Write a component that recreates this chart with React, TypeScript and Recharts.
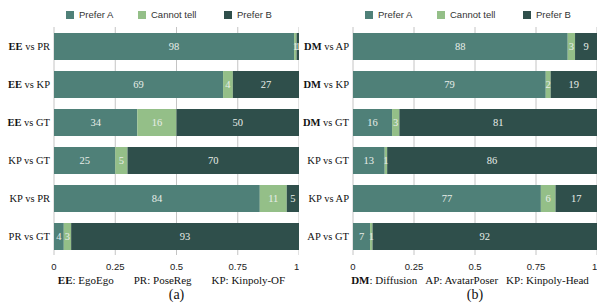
import { Bar, BarChart, CartesianGrid, LabelList, XAxis, YAxis } from "recharts"

// percentages
const seriesNames = ["Prefer A", "Cannot tell", "Prefer B"]
const seriesColors = ["#4f8078", "#94bf88", "#2f4f4b"]

const leftPairs = ["EE vs PR", "EE vs KP", "EE vs GT", "KP vs GT", "KP vs PR", "PR vs GT"]
const leftPreferA = [98, 69, 34, 25, 84, 4]
const leftCannotTell = [1, 4, 16, 5, 11, 3]
const leftPreferB = [1, 27, 50, 70, 5, 93]

const rightPairs = ["DM vs AP", "DM vs KP", "DM vs GT", "KP vs GT", "KP vs AP", "AP vs GT"]
const rightPreferA = [88, 79, 16, 13, 77, 7]
const rightCannotTell = [3, 2, 3, 1, 6, 1]
const rightPreferB = [9, 19, 81, 86, 17, 92]

const xTicks = [0, 0.25, 0.5, 0.75, 1]
const boldNames = ["EE", "DM"]

const leftCaption = [["EE", ": EgoEgo"], ["PR", ": PoseReg"], ["KP", ": Kinpoly-OF"]]
const rightCaption = [["DM", ": Diffusion"], ["AP", ": AvatarPoser"], ["KP", ": Kinpoly-Head"]]

const serif = "'Liberation Serif', 'Times New Roman', serif"
const sans = "'Liberation Sans', Arial, sans-serif"

const buildRows = (names: string[], a: number[], c: number[], b: number[]) =>
    names.map((name, i) => ({ name, a: a[i] / 100, c: c[i] / 100, b: b[i] / 100 }))

const YTick = (props: any) => {
    const { x, y, payload } = props
    const [first, ...rest] = String(payload.value).split(" ")
    return (
        <text x={x} y={y} dy="0.35em" textAnchor="end" fontFamily={serif} fontSize={10.5} fill="#111">
            <tspan fontWeight={boldNames.includes(first) ? "bold" : "normal"}>{first}</tspan>
            <tspan>{" " + rest.join(" ")}</tspan>
        </text>
    )
}

const barLabel = (props: any) => {
    const { x, y, width, height, value } = props
    return (
        <text
            x={x + width / 2}
            y={y + height / 2}
            dy="0.35em"
            textAnchor="middle"
            fontFamily={serif}
            fontSize={10.5}
            fill="#e8eee9"
        >
            {Math.round(value * 100)}
        </text>
    )
}

const legendLefts = [67, 139, 225]

const Panel = ({ rows, caption, tag, left, width, gap }: any) => {
    const plotLeft = 55
    return (
        <div style={{ position: "absolute", left, top: 0, width, height: 306 }}>
            {seriesNames.map((s, i) => (
                <div
                    key={s}
                    style={{
                        position: "absolute",
                        left: legendLefts[i],
                        top: 9,
                        display: "flex",
                        alignItems: "center",
                        fontFamily: sans,
                        fontSize: 9.5,
                        color: "#333",
                    }}
                >
                    <span style={{ width: 8, height: 8, background: seriesColors[i], marginRight: 5 }} />
                    {s}
                </div>
            ))}
            <BarChart
                width={width}
                height={275}
                data={rows}
                layout="vertical"
                margin={{ top: 27, right: 0, left: 0, bottom: 0 }}
            >
                <CartesianGrid horizontal={false} stroke="#c4c4c4" />
                <XAxis
                    type="number"
                    domain={[0, 1]}
                    ticks={xTicks}
                    height={20}
                    tickLine={false}
                    axisLine={false}
                    tick={{ fontFamily: sans, fontSize: 9.5, fill: "#222" }}
                />
                <YAxis
                    type="category"
                    dataKey="name"
                    width={plotLeft}
                    tickLine={false}
                    axisLine={false}
                    tickSize={0}
                    tickMargin={4}
                    tick={YTick}
                />
                <Bar dataKey="a" stackId="s" fill={seriesColors[0]} barSize={27} isAnimationActive={false}>
                    <LabelList dataKey="a" content={barLabel} />
                </Bar>
                <Bar dataKey="c" stackId="s" fill={seriesColors[1]} barSize={27} isAnimationActive={false}>
                    <LabelList dataKey="c" content={barLabel} />
                </Bar>
                <Bar dataKey="b" stackId="s" fill={seriesColors[2]} barSize={27} isAnimationActive={false}>
                    <LabelList dataKey="b" content={barLabel} />
                </Bar>
            </BarChart>
            <div
                style={{
                    position: "absolute",
                    left: plotLeft - 10,
                    width: width - plotLeft + 10,
                    top: 274,
                    display: "flex",
                    justifyContent: "center",
                    gap,
                    fontFamily: serif,
                    fontSize: 11,
                    color: "#111",
                    whiteSpace: "nowrap",
                }}
            >
                {caption.map(([abbr, rest]: string[]) => (
                    <span key={abbr}>
                        <b style={{ fontWeight: boldNames.includes(abbr) ? "bold" : "normal" }}>{abbr}</b>
                        {rest}
                    </span>
                ))}
            </div>
            <div
                style={{
                    position: "absolute",
                    left: plotLeft,
                    width: width - plotLeft,
                    top: 287,
                    textAlign: "center",
                    fontFamily: serif,
                    fontSize: 14,
                    color: "#111",
                }}
            >
                {tag}
            </div>
        </div>
    )
}

const App = () => {
    const leftRows = buildRows(leftPairs, leftPreferA, leftCannotTell, leftPreferB)
    const rightRows = buildRows(rightPairs, rightPreferA, rightCannotTell, rightPreferB)
    return (
        <div style={{ position: "absolute", left: 0, top: 0, width: 597, height: 306, background: "#fff" }}>
            <Panel rows={leftRows} caption={leftCaption} tag="(a)" left={-1} width={300} gap={20} />
            <Panel rows={rightRows} caption={rightCaption} tag="(b)" left={298} width={299} gap={8} />
        </div>
    )
}

export default App
